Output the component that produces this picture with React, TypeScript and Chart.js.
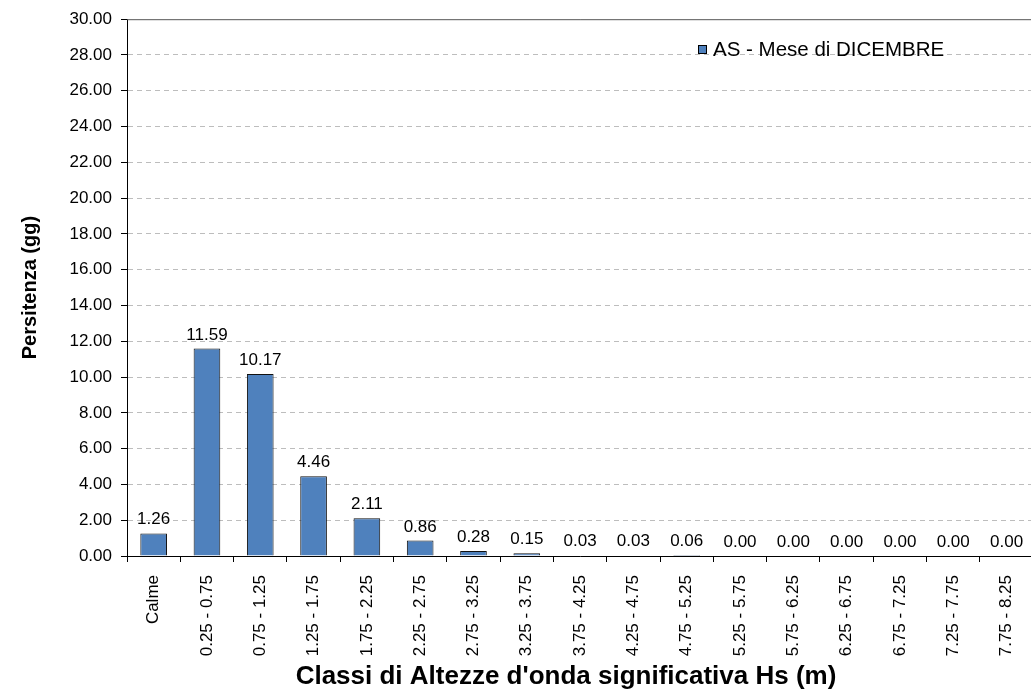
import React, { useEffect, useRef } from "react";
import { Chart, registerables } from "chart.js";

Chart.register(...registerables);

// Wave height classes (m) and monthly persistence (days)
const categories = [
  "Calme",
  "0.25 - 0.75",
  "0.75 - 1.25",
  "1.25 - 1.75",
  "1.75 - 2.25",
  "2.25 - 2.75",
  "2.75 - 3.25",
  "3.25 - 3.75",
  "3.75 - 4.25",
  "4.25 - 4.75",
  "4.75 - 5.25",
  "5.25 - 5.75",
  "5.75 - 6.25",
  "6.25 - 6.75",
  "6.75 - 7.25",
  "7.25 - 7.75",
  "7.75 - 8.25",
];
const persistenceDays = [
  1.26, 11.59, 10.17, 4.46, 2.11, 0.86, 0.28, 0.15, 0.03, 0.03, 0.06, 0, 0, 0, 0, 0, 0,
];
const seriesLabel = "AS - Mese di DICEMBRE";
const xAxisTitle = "Classi di Altezze d'onda significativa Hs (m)";
const yAxisTitle = "Persitenza (gg)";
const yMin = 0;
const yMax = 30;
const yStep = 2;

const FONT = "'Liberation Sans', Arial, sans-serif";
const BAR_FILL = "#4F81BD";

// Value printed above each bar
const valueLabels = {
  id: "valueLabels",
  afterDatasetsDraw(chart: any) {
    const ctx = chart.ctx;
    const meta = chart.getDatasetMeta(0);
    const data = chart.data.datasets[0].data as number[];
    ctx.save();
    ctx.font = `17px ${FONT}`;
    ctx.fillStyle = "#000";
    ctx.textAlign = "center";
    ctx.textBaseline = "alphabetic";
    meta.data.forEach((bar: any, i: number) => {
      ctx.fillText(Number(data[i]).toFixed(2), bar.x, bar.y - 9);
    });
    ctx.restore();
  },
};

// Top frame line, in-plot legend and the category axis title
const frameAndLegend = {
  id: "frameAndLegend",
  afterDraw(chart: any) {
    const { ctx, chartArea } = chart;
    ctx.save();
    ctx.strokeStyle = "#555";
    ctx.lineWidth = 1;
    ctx.beginPath();
    ctx.moveTo(chartArea.left, chartArea.top + 0.5);
    ctx.lineTo(chartArea.right, chartArea.top + 0.5);
    ctx.stroke();

    const bx = 698;
    const by = 45;
    ctx.fillStyle = BAR_FILL;
    ctx.fillRect(bx, by, 9, 9);
    ctx.strokeStyle = "#000";
    ctx.strokeRect(bx + 0.5, by + 0.5, 8, 8);
    ctx.fillStyle = "#000";
    ctx.font = `20.5px ${FONT}`;
    ctx.textAlign = "left";
    ctx.textBaseline = "middle";
    ctx.fillText(chart.data.datasets[0].label, 713, by + 5);

    ctx.font = `bold 26px ${FONT}`;
    ctx.textAlign = "center";
    ctx.textBaseline = "middle";
    ctx.fillText(xAxisTitle, 566, 677);
    ctx.restore();
  },
};

export default function App() {
  const canvasRef = useRef<HTMLCanvasElement | null>(null);

  useEffect(() => {
    if (!canvasRef.current) return;
    const chart = new Chart(canvasRef.current, {
      type: "bar",
      data: {
        labels: categories,
        datasets: [
          {
            label: seriesLabel,
            data: persistenceDays,
            backgroundColor: BAR_FILL,
            borderColor: "#111",
            borderWidth: 1,
            barPercentage: 0.5,
            categoryPercentage: 1,
          },
        ],
      },
      options: {
        responsive: false,
        animation: false,
        layout: { padding: { top: 18, right: 2, left: 0, bottom: 0 } },
        plugins: {
          legend: { display: false },
          tooltip: { enabled: false },
        },
        scales: {
          x: {
            afterFit: (scale: any) => {
              scale.height = 138;
            },
            grid: {
              offset: true,
              drawOnChartArea: false,
              drawTicks: true,
              tickLength: 6,
              color: "#000",
            },
            border: { color: "#000", width: 1 },
            ticks: {
              autoSkip: false,
              maxRotation: 90,
              minRotation: 90,
              padding: 13,
              color: "#000",
              font: { family: FONT, size: 17 },
            },
          },
          y: {
            min: yMin,
            max: yMax,
            afterFit: (scale: any) => {
              scale.width = 127;
            },
            grid: {
              color: (c: any) => (c.tick && c.tick.value === yMax ? "rgba(0,0,0,0)" : "#bdbdbd"),
              tickColor: "#000",
              tickLength: 6,
              drawTicks: true,
            },
            border: { color: "#000", width: 1, dash: [5, 4] },
            ticks: {
              stepSize: yStep,
              padding: 9,
              color: "#000",
              font: { family: FONT, size: 17 },
              callback: (v: any) => Number(v).toFixed(2),
            },
            title: {
              display: true,
              text: yAxisTitle,
              color: "#000",
              font: { family: FONT, size: 20, weight: "bold" },
              padding: { top: 18, bottom: 0 },
            },
          },
        },
      },
      plugins: [valueLabels, frameAndLegend],
    });
    return () => chart.destroy();
  }, []);

  return (
    <div
      style={{
        position: "fixed",
        left: 0,
        top: 0,
        width: 1031,
        height: 694,
        overflow: "hidden",
        background: "#fff",
      }}
    >
      <canvas ref={canvasRef} width={1040} height={694} style={{ display: "block" }} />
    </div>
  );
}
